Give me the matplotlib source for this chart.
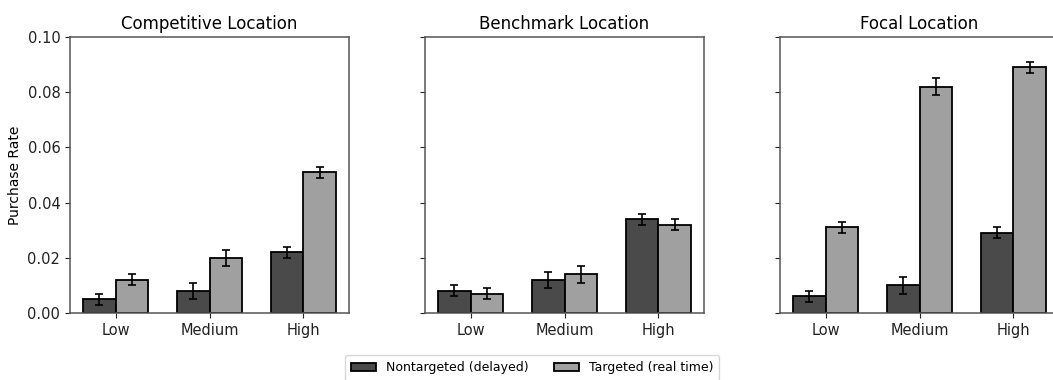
import matplotlib
matplotlib.use("Agg")
import matplotlib.pyplot as plt
import numpy as np

categories = ["Low", "Medium", "High"]
panels = ["Competitive Location", "Benchmark Location", "Focal Location"]
series_names = ["Nontargeted (delayed)", "Targeted (real time)"]

nontargeted = [
    [0.005, 0.008, 0.022],
    [0.008, 0.012, 0.034],
    [0.006, 0.010, 0.029],
]
targeted = [
    [0.012, 0.020, 0.051],
    [0.007, 0.014, 0.032],
    [0.031, 0.082, 0.089],
]
nontargeted_err = [
    [0.002, 0.003, 0.002],
    [0.002, 0.003, 0.002],
    [0.002, 0.003, 0.002],
]
targeted_err = [
    [0.002, 0.003, 0.002],
    [0.002, 0.003, 0.002],
    [0.002, 0.003, 0.002],
]

dark = "#4a4a4a"
light = "#a0a0a0"

fig = plt.figure(figsize=(10.53, 3.80), dpi=100)
W, H = 1053, 380
ax_w = 279
lefts = [70, 425, 780]
top, bottom = 37, 313
axes = []
for i, l in enumerate(lefts):
    ax = fig.add_axes([l / W, 1 - bottom / H, ax_w / W, (bottom - top) / H],
                      sharey=axes[0] if axes else None)
    axes.append(ax)

x = np.arange(len(categories))
w = 0.35
handles = None
for i, ax in enumerate(axes):
    b1 = ax.bar(x - w / 2, nontargeted[i], w, yerr=nontargeted_err[i], color=dark,
                edgecolor="black", linewidth=1.3, capsize=3.2,
                error_kw=dict(elinewidth=1.2, capthick=1.2, ecolor="black"))
    b2 = ax.bar(x + w / 2, targeted[i], w, yerr=targeted_err[i], color=light,
                edgecolor="black", linewidth=1.3, capsize=3.2,
                error_kw=dict(elinewidth=1.2, capthick=1.2, ecolor="black"))
    handles = (b1, b2)
    ax.set_xticks(x)
    ax.set_xticklabels(categories, fontsize=10.5)
    ax.set_title(panels[i], fontsize=12, pad=6)
    ax.set_ylim(0, 0.10)
    ax.set_yticks([0, 0.02, 0.04, 0.06, 0.08, 0.10])
    for s in ax.spines.values():
        s.set_color("#555555")
        s.set_linewidth(1.1)
    ax.tick_params(colors="#222222")
    if i > 0:
        ax.tick_params(labelleft=False)
    else:
        ax.set_yticklabels(["0.00", "0.02", "0.04", "0.06", "0.08", "0.10"], fontsize=10.5)

axes[0].set_ylabel("Purchase Rate", fontsize=10)

fig.legend(handles, series_names, loc="upper center", bbox_to_anchor=(532 / W, 1 - 355 / H),
           ncol=2, fontsize=9, frameon=True, handlelength=2.0, handletextpad=0.8,
           columnspacing=2.0, borderaxespad=0, borderpad=0.5)

fig.savefig("out.png", dpi=100)
